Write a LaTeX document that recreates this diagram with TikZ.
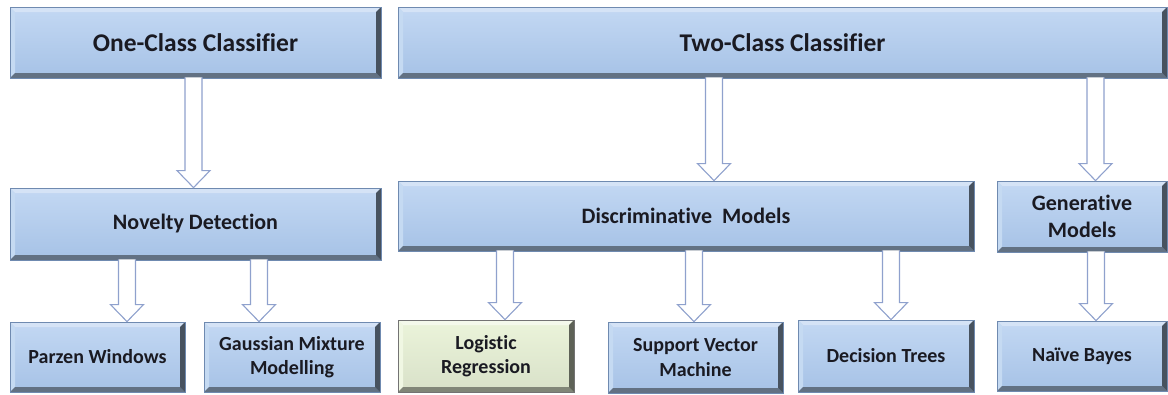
\documentclass[tikz,border=0pt]{standalone}
\usepackage{fontspec}
\setmainfont[Ligatures={NoCommon}]{Carlito}
\usetikzlibrary{calc}
\definecolor{boxfill}{HTML}{B2CDEE}
\definecolor{boxtop}{HTML}{C3D8F3}
\definecolor{boxbot}{HTML}{A6C2E6}
\definecolor{boxline}{HTML}{6F8AB0}
\definecolor{greenfill}{HTML}{EBF4DA}
\definecolor{arrline}{HTML}{8FA1CD}
\definecolor{txt}{HTML}{1A1A22}
\tikzset{
  bevel/.style={path picture={
    \coordinate (bsw) at (path picture bounding box.south west);
    \coordinate (bse) at (path picture bounding box.south east);
    \coordinate (bnw) at (path picture bounding box.north west);
    \coordinate (bne) at (path picture bounding box.north east);
    \fill[#1!55!white] (bnw) -- (bne) -- ($(bne)+(-5,5)$) -- ($(bnw)+(5,5)$) -- cycle;
    \fill[#1!75!white] (bnw) -- (bsw) -- ($(bsw)+(5,-5)$) -- ($(bnw)+(5,5)$) -- cycle;
    \fill[#1!55!black] (bsw) -- (bse) -- ($(bse)+(-5,-5)$) -- ($(bsw)+(5,-5)$) -- cycle;
    \fill[#1!40!black] (bse) -- (bne) -- ($(bne)+(-5,5)$) -- ($(bse)+(-5,-5)$) -- cycle;
  }},
  cbox/.style={draw=boxline, line width=0.8pt, top color=boxtop, bottom color=boxbot,
    bevel=boxfill, inner sep=0pt, align=center, text=txt},
  gbox/.style={cbox, top color=greenfill, bottom color=greenfill!92!black, bevel=greenfill, draw=black!55},
  bigtxt/.style={font=\bfseries\fontsize{25.5}{30}\selectfont},
  midtxt/.style={font=\bfseries\fontsize{22}{26.5}\selectfont},
  smltxt/.style={font=\bfseries\fontsize{20}{24.5}\selectfont},
  blockarr/.style={draw=arrline, fill=white, line width=1.1pt, line join=miter},
}
% #1 from node, #2 to node, #3 x position
\newcommand{\barrow}[3]{%
  \path (#3,0) coordinate (ax);
  \path (ax |- #1.south) coordinate (as) (ax |- #2.north) coordinate (at);
  \draw[blockarr] ($(as)+(-8.5,-1)$) -- ($(at)+(-8.5,-17)$) -- ($(at)+(-16.5,-17)$) -- (at)
    -- ($(at)+(16.5,-17)$) -- ($(at)+(8.5,-17)$) -- ($(as)+(8.5,-1)$);
}
\begin{document}
\begin{tikzpicture}[x=1pt,y=-1pt]
\useasboundingbox (0,0) rectangle (1168,394);
\node[cbox,bigtxt,minimum width=371,minimum height=71] (oc) at (195.5,42.5) {One-Class Classifier};
\node[cbox,bigtxt,minimum width=769,minimum height=71] (tc) at (782.5,42.5) {Two-Class Classifier};
\node[cbox,midtxt,minimum width=371,minimum height=72] (nd) at (195.5,224) {Novelty Detection};
\node[cbox,midtxt,minimum width=576,minimum height=70] (dm) at (686,216) {Discriminative\ \ Models};
\node[cbox,midtxt,minimum width=170,minimum height=71] (gm) at (1082,216.5) {Generative\\Models};
\node[cbox,smltxt,minimum width=175,minimum height=70] (pw) at (97.5,357) {Parzen Windows};
\node[cbox,smltxt,minimum width=176,minimum height=70] (gmm) at (292,357) {Gaussian Mixture\\Modelling};
\node[gbox,smltxt,minimum width=176,minimum height=72] (lr) at (486,356) {Logistic\\Regression};
\node[cbox,smltxt,minimum width=175,minimum height=71] (svm) at (695.5,357.5) {Support Vector\\Machine};
\node[cbox,smltxt,minimum width=176,minimum height=72] (dt) at (886,356) {Decision Trees};
\node[cbox,smltxt,minimum width=170,minimum height=70] (nb) at (1082,356) {Naïve Bayes};

\barrow{oc}{nd}{193.5}
\barrow{tc}{dm}{714}
\barrow{tc}{gm}{1095.5}
\barrow{nd}{pw}{127}
\barrow{nd}{gmm}{259}
\barrow{dm}{lr}{505}
\barrow{dm}{svm}{694}
\barrow{dm}{dt}{891}
\barrow{gm}{nb}{1096}
\end{tikzpicture}
\end{document}
